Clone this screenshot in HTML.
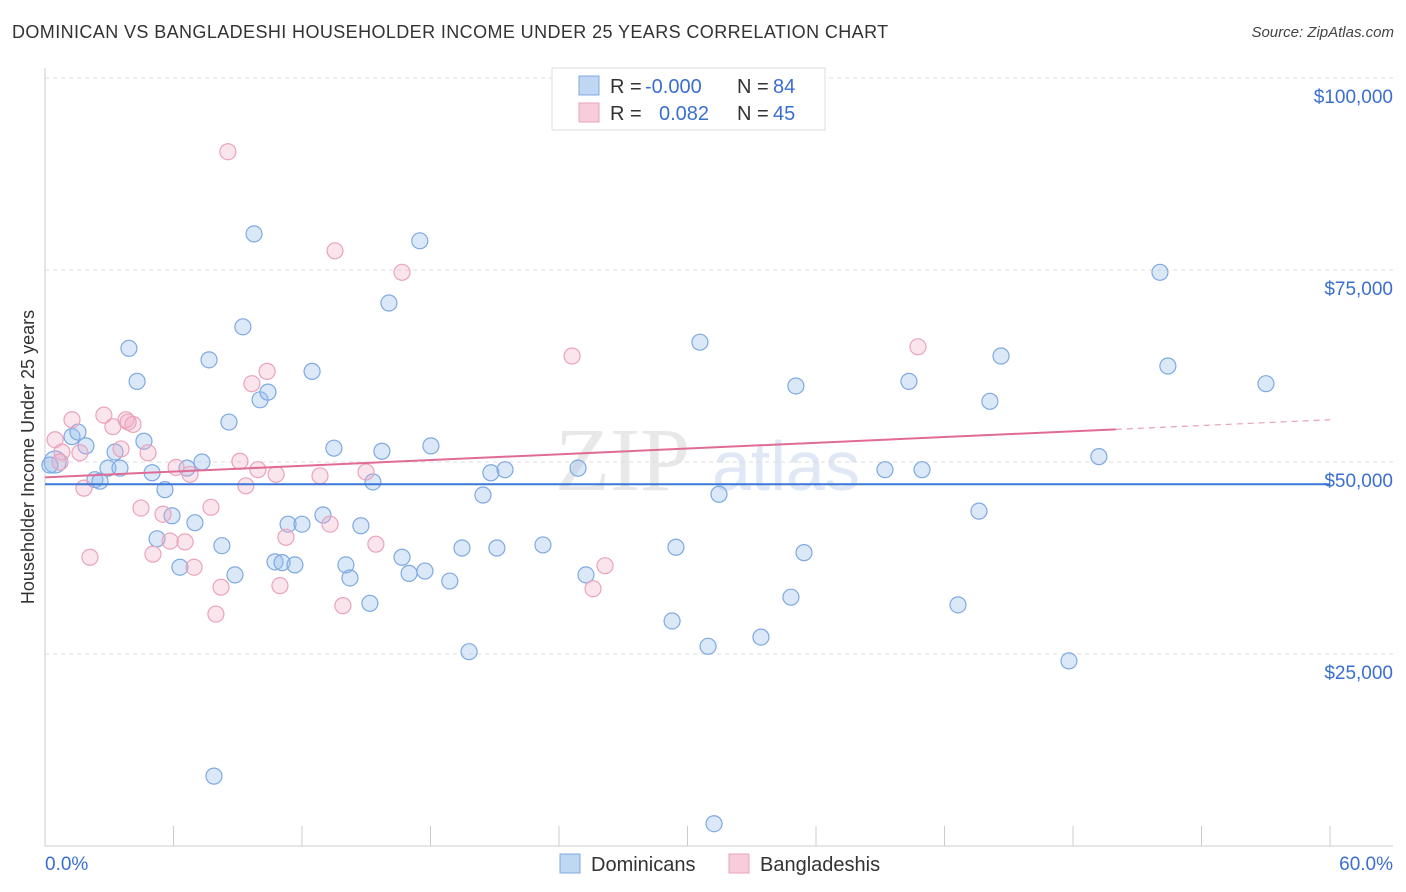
<!DOCTYPE html>
<html><head><meta charset="utf-8"><style>
body{margin:0;background:#fff;font-family:"Liberation Sans",sans-serif;}
#wrap{position:relative;width:1406px;height:892px;overflow:hidden}
.title{position:absolute;left:12px;top:22px;font-size:18px;color:#333;letter-spacing:0.4px}
.src{position:absolute;right:12px;top:24px;font-size:15px;color:#444;font-style:italic}
</style></head><body>
<div id="wrap">
<div class="title">DOMINICAN VS BANGLADESHI HOUSEHOLDER INCOME UNDER 25 YEARS CORRELATION CHART</div>
<div class="src">Source: ZipAtlas.com</div>
<svg id="svg" width="1406" height="892" style="position:absolute;left:0;top:0"></svg>
</div>
<script>
const blueX=[0.47,0.23,1.26,1.54,1.91,2.33,2.57,2.94,3.5,3.27,3.92,4.3,4.62,5.0,5.23,5.6,5.93,6.3,6.63,7.0,7.33,7.66,7.89,8.26,8.59,8.87,9.24,9.76,10.04,10.41,10.74,11.07,11.35,11.67,12.0,12.47,12.98,13.49,14.05,14.24,14.75,15.17,15.31,15.73,16.06,16.67,17.0,17.5,17.74,18.02,18.9,19.47,19.8,20.45,20.82,21.1,21.48,23.25,24.89,25.26,26.61,29.28,29.46,30.58,30.96,31.24,31.47,33.43,34.83,35.06,35.44,39.22,40.34,40.95,42.63,43.61,44.12,44.64,47.81,49.21,52.06,52.43,57.01];
const blueY=[50.0,49.6,53.3,53.9,52.1,47.7,47.5,49.2,49.2,51.3,64.8,60.5,52.7,48.6,40.0,46.4,43.0,36.3,49.2,42.1,50.0,63.3,9.1,39.1,55.2,35.3,67.6,79.7,58.1,59.1,37.0,36.9,41.9,36.6,41.9,61.8,43.1,51.8,36.6,34.9,41.7,31.6,47.4,51.4,70.7,37.6,35.5,78.8,35.8,52.1,34.5,38.8,25.3,45.7,48.6,38.8,49.0,39.2,49.2,35.3,94.3,29.3,38.9,65.6,26.0,2.9,45.8,27.2,32.4,59.9,38.2,49.0,60.5,49.0,31.4,43.6,57.9,63.8,24.1,50.7,74.7,62.5,60.2];
const pinkX=[0.47,0.79,1.26,1.63,1.82,2.1,2.75,3.17,3.55,3.78,4.11,4.48,4.81,5.04,5.51,5.84,6.12,6.54,6.77,6.96,7.75,7.98,8.22,8.54,9.1,9.38,9.66,9.94,10.37,10.79,10.97,11.25,12.84,13.31,13.54,13.91,14.99,15.45,16.67,24.61,25.59,26.15,40.76,3.88,0.7];
const pinkY=[52.9,51.3,55.5,51.2,46.6,37.6,56.1,54.6,51.7,55.5,54.9,44.0,51.2,38.0,43.2,39.7,49.3,39.6,48.4,36.3,44.1,30.2,33.7,90.4,50.1,46.9,60.2,49.0,61.8,48.4,33.9,40.2,48.2,41.9,77.5,31.3,48.7,39.3,74.7,63.8,33.5,36.5,65.0,55.2,50.0];
const yTicks=[25,50,75,100];
const yTickLabels=["$25,000","$50,000","$75,000","$100,000"];
const blueTrend=[47.1,47.1];
const pinkTrend=[48.0,55.5];
const NS="http://www.w3.org/2000/svg";
const svg=document.getElementById('svg');
const X=v=>45+v/60*1285;
const Y=v=>846-v*384/50;
function mk(t,a){const e=document.createElementNS(NS,t);for(const k in a)e.setAttribute(k,a[k]);svg.appendChild(e);return e;}
let w=mk('text',{x:555,y:490,'font-size':90,fill:'#e8e8e8','font-family':'Liberation Serif'});w.textContent='ZIP';


let w2=mk('text',{x:712,y:490,'font-size':70,fill:'#dfe8f4','font-family':'Liberation Sans'});w2.textContent='atlas';


yTicks.forEach((t,i)=>{
 const g=mk('line',{x1:45,x2:1393,y1:Y(t),y2:Y(t),stroke:'#ddd','stroke-dasharray':'4,4'});
 
 
 const l=mk('text',{x:1393,y:Y(t)+25,'text-anchor':'end','font-size':19,fill:'#3a6fd0'});l.textContent=yTickLabels[i];
 
 
});
mk('line',{x1:45,x2:45,y1:68,y2:846,stroke:'#ccc'});
const ax=mk('line',{x1:45,x2:1393,y1:846,y2:846,stroke:'#ccc'});


for(let i=0;i<=10;i++){const t=mk('line',{x1:X(i*6),x2:X(i*6),y1:826,y2:846,stroke:'#ccc'});
 
 }
let xl=mk('text',{x:45,y:870,'font-size':19,fill:'#3a6fd0'});xl.textContent='0.0%';


let xr=mk('text',{x:1393,y:870,'font-size':19,fill:'#3a6fd0','text-anchor':'end'});xr.textContent='60.0%';


let yt=mk('text',{x:34,y:457,'font-size':18,fill:'#333','text-anchor':'middle',transform:'rotate(-90 34 457)'});yt.textContent='Householder Income Under 25 years';


blueX.forEach((x,i)=>{const c=mk('circle',{cx:X(x),cy:Y(blueY[i]),r:i==0?11:8,fill:'rgba(150,188,235,0.35)',stroke:'#7fa9e2','stroke-width':1.2});
 
 });
pinkX.forEach((x,i)=>{const c=mk('circle',{cx:X(x),cy:Y(pinkY[i]),r:8,fill:'rgba(242,170,195,0.3)',stroke:'#eaa3bb','stroke-width':1.2});
 
 });
const bl=mk('line',{x1:X(0),x2:X(60),y1:Y(blueTrend[0]),y2:Y(blueTrend[1]),stroke:'#3a78d8','stroke-width':2});


const py=x=>pinkTrend[0]+(pinkTrend[1]-pinkTrend[0])*x/60;
const pl=mk('line',{x1:X(0),x2:X(50),y1:Y(py(0)),y2:Y(py(50)),stroke:'#e06b95','stroke-width':2});


const pd=mk('line',{x1:X(50),x2:X(60),y1:Y(py(50)),y2:Y(py(60)),stroke:'#e8a0b8','stroke-width':1.2,'stroke-dasharray':'6,5'});


const lb=mk('rect',{x:552,y:68,width:273,height:62,fill:'#fff',stroke:'#ddd'});


mk('rect',{x:579,y:76,width:20,height:19,fill:'rgba(150,188,235,0.6)',stroke:'#7fa9e2'});
mk('rect',{x:579,y:103,width:20,height:19,fill:'rgba(242,170,195,0.6)',stroke:'#eaa3bb'});
function lt(x,y,s,c,nm){const t=mk('text',{x:x,y:y,'font-size':20,fill:c});t.textContent=s;}
lt(610,93,'R =','#333','legend-r-label');lt(645,93,'-0.000','#3a6fd0','legend-r-blue');lt(737,93,'N =','#333','legend-n-label');lt(773,93,'84','#3a6fd0','legend-n-blue');
lt(610,120,'R =','#333','legend-r-label');lt(659,120,'0.082','#3a6fd0','legend-r-pink');lt(737,120,'N =','#333','legend-n-label');lt(773,120,'45','#3a6fd0','legend-n-pink');
mk('rect',{x:560,y:854,width:20,height:19,fill:'rgba(150,188,235,0.6)',stroke:'#7fa9e2'});
lt(591,871,'Dominicans','#333','legend-dominicans');
mk('rect',{x:729,y:854,width:20,height:19,fill:'rgba(242,170,195,0.6)',stroke:'#eaa3bb'});
lt(760,871,'Bangladeshis','#333','legend-bangladeshis');
</script>
</body></html>
